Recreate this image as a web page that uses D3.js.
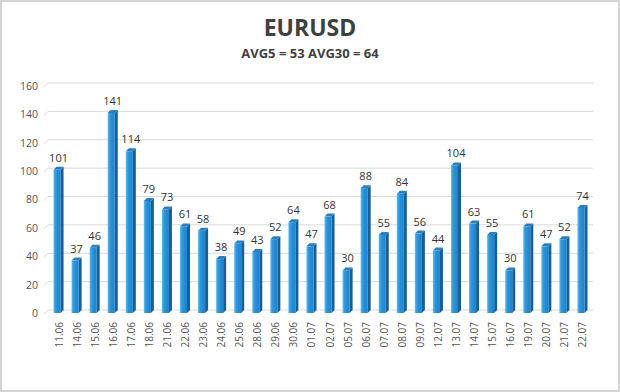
<!DOCTYPE html>
<html><head><meta charset="utf-8">
<script src="https://cdn.jsdelivr.net/npm/d3@7"></script>
<style>body{margin:0;background:#fff}svg{display:block}</style>
</head><body><svg id="c" width="620" height="392"></svg>
<script>
const categories = ["11.06","14.06","15.06","16.06","17.06","18.06","21.06","22.06","23.06","24.06","25.06","28.06","29.06","30.06","01.07","02.07","05.07","06.07","07.07","08.07","09.07","12.07","13.07","14.07","15.07","16.07","19.07","20.07","21.07","22.07"];
const values = [101,37,46,141,114,79,73,61,58,38,49,43,52,64,47,68,30,88,55,84,56,44,104,63,55,30,61,47,52,74];
const yTicks = [0,20,40,60,80,100,120,140,160];
const title = "EURUSD";
const subtitle = "AVG5 = 53 AVG30 = 64";

const svg = d3.select("#c");
const font = "'Open Sans', 'Noto Sans', sans-serif";
svg.append("rect").attr("x",1).attr("y",1).attr("width",618).attr("height",390)
  .attr("fill","#fff").attr("stroke","#d4d4d4").attr("stroke-width",2);

const defs = svg.append("defs");
const g1 = defs.append("linearGradient").attr("id","front").attr("x1","0").attr("x2","1");
g1.append("stop").attr("offset","0").attr("stop-color","#62bdf2");
g1.append("stop").attr("offset","0.3").attr("stop-color","#2b98e0");
g1.append("stop").attr("offset","1").attr("stop-color","#1a82cf");

const x = d3.scaleBand().domain(categories).range([49,591]).paddingInner(0.5).paddingOuter(0.25);
const y = d3.scaleLinear().domain([0,160]).range([313,86]);
const dx = 3, dy = 3;

// gridlines
const grid = svg.append("g");
yTicks.forEach(t => {
  const yy = y(t) - dy;
  grid.append("line").attr("x1",48).attr("x2",593).attr("y1",yy).attr("y2",yy)
    .attr("stroke","#d9d9d9").attr("stroke-width",1);
  grid.append("line").attr("x1",44).attr("x2",48).attr("y1",yy+dy+1).attr("y2",yy)
    .attr("stroke","#d9d9d9").attr("stroke-width",1);
});

// y axis labels
const yAxis = d3.axisLeft(y).tickValues(yTicks).tickSize(0).tickPadding(0);
const ya = svg.append("g").attr("transform","translate(38,0)").call(yAxis);
ya.select(".domain").remove();
ya.selectAll("text").attr("font-family",font).attr("font-size",10.5).attr("fill","#555");

// bars
const bars = svg.append("g");
categories.forEach((c,i) => {
  const v = values[i];
  const x0 = x(c), w = x.bandwidth() - 2, top = y(v), bot = y(0);
  bars.append("path").attr("d",`M${x0+w},${bot} L${x0+w+dx},${bot-dy} L${x0+w+dx},${top-dy} L${x0+w},${top} Z`).attr("fill","#175f94");
  bars.append("path").attr("d",`M${x0},${top} L${x0+dx},${top-dy} L${x0+w+dx},${top-dy} L${x0+w},${top} Z`).attr("fill","#2a7fbf");
  bars.append("rect").attr("x",x0).attr("y",top).attr("width",w).attr("height",bot-top).attr("fill","url(#front)");
  bars.append("text").attr("x",x0+(w+dx)/2).attr("y",top-8).attr("text-anchor","middle")
    .attr("font-family",font).attr("font-size",11).attr("fill","#333").text(v);
});

// x labels
const xAxis = d3.axisBottom(x).tickSize(0).tickPadding(0);
const xa = svg.append("g").attr("transform","translate(1,322)").call(xAxis);
xa.select(".domain").remove();
xa.selectAll("text").attr("font-family",font).attr("font-size",10).attr("fill","#555")
  .attr("transform","rotate(-90)").attr("text-anchor","end").attr("dy","0.35em").attr("x",0).attr("y",0);

svg.append("text").attr("x",310).attr("y",36).attr("text-anchor","middle")
  .attr("font-family",font).attr("font-weight","bold").attr("font-size",23).attr("fill","#404040").text(title);
svg.append("text").attr("x",310).attr("y",58).attr("text-anchor","middle")
  .attr("font-family",font).attr("font-weight","bold").attr("font-size",13).attr("fill","#404040").text(subtitle);
</script></body></html>
